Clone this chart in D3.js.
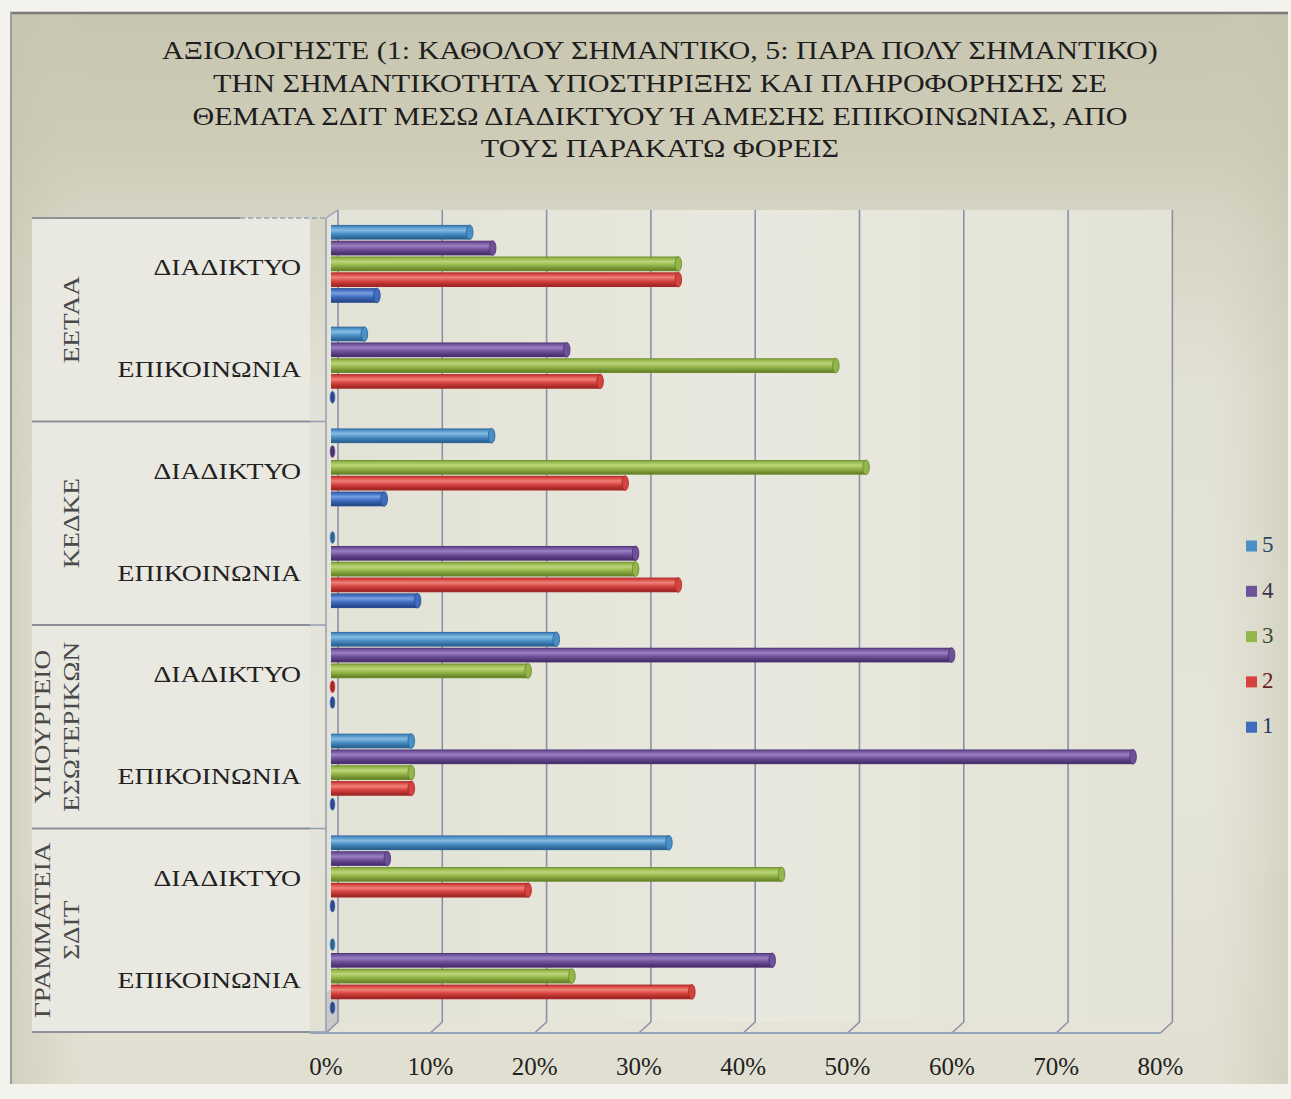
<!DOCTYPE html>
<html><head><meta charset="utf-8">
<script src="https://cdn.jsdelivr.net/npm/d3@7"></script>
<style>body{margin:0;background:#f3f2ec;}svg{display:block}</style>
</head><body><svg id="c" width="1291" height="1099"></svg>
<script>
// ---------------- data ----------------
const titleLines = [
  "ΑΞΙΟΛΟΓΗΣΤΕ (1: ΚΑΘΟΛΟΥ ΣΗΜΑΝΤΙΚΟ, 5: ΠΑΡΑ ΠΟΛΥ ΣΗΜΑΝΤΙΚΟ)",
  "ΤΗΝ ΣΗΜΑΝΤΙΚΟΤΗΤΑ ΥΠΟΣΤΗΡΙΞΗΣ ΚΑΙ ΠΛΗΡΟΦΟΡΗΣΗΣ ΣΕ",
  "ΘΕΜΑΤΑ ΣΔΙΤ ΜΕΣΩ ΔΙΑΔΙΚΤΥΟΥ Ή ΑΜΕΣΗΣ ΕΠΙΚΟΙΝΩΝΙΑΣ, ΑΠΟ",
  "ΤΟΥΣ ΠΑΡΑΚΑΤΩ ΦΟΡΕΙΣ"
];
const groups = ["ΕΕΤΑΑ", "ΚΕΔΚΕ", "ΥΠΟΥΡΓΕΙΟ ΕΣΩΤΕΡΙΚΩΝ", "ΓΡΑΜΜΑΤΕΙΑ ΣΔΙΤ"];
const groupLabelLines = [["ΕΕΤΑΑ"], ["ΚΕΔΚΕ"], ["ΥΠΟΥΡΓΕΙΟ", "ΕΣΩΤΕΡΙΚΩΝ"], ["ΓΡΑΜΜΑΤΕΙΑ", "ΣΔΙΤ"]];
const subCategories = ["ΔΙΑΔΙΚΤΥΟ", "ΕΠΙΚΟΙΝΩΝΙΑ"];
const seriesNames = ["5", "4", "3", "2", "1"];
// values in %, categories top→bottom: group × subCategory
const s5 = [13.3, 3.2, 15.4, 0, 21.6, 7.7, 32.4, 0];
const s4 = [15.5, 22.6, 0, 29.2, 59.5, 76.9, 5.4, 42.3];
const s3 = [33.3, 48.4, 51.3, 29.2, 18.9, 7.7, 43.2, 23.1];
const s2 = [33.3, 25.8, 28.2, 33.3, 0, 7.7, 18.9, 34.6];
const s1 = [4.4, 0, 5.1, 8.3, 0, 0, 0, 0];
const xTicks = [0, 10, 20, 30, 40, 50, 60, 70, 80];

const seriesValues = [s5, s4, s3, s2, s1];
const seriesColors = {
  "5": {base: "#4a8fc6", light: "#86bce3", dark: "#2c6595", text: "#2e4a60"},
  "4": {base: "#6f5199", light: "#9a80c2", dark: "#4a3170", text: "#3a3550"},
  "3": {base: "#93b64a", light: "#bcd57a", dark: "#6a872b", text: "#3e4a2a"},
  "2": {base: "#d6433f", light: "#ef817a", dark: "#a32826", text: "#6a2424"},
  "1": {base: "#3f6cbf", light: "#769ee0", dark: "#284a8e", text: "#243a66"}
};

// ---------------- layout ----------------
const svg = d3.select("#c");
const W = 1291, H = 1099;
const FONT = "'Liberation Serif','Times New Roman',serif";
const STRETCH = 1.18; // the original Greek face is wider than Liberation Serif
function stretch(sel, f) {
  sel.each(function () {
    const w = this.getComputedTextLength();
    d3.select(this).attr("textLength", w * f).attr("lengthAdjust", "spacingAndGlyphs");
  });
}
const defs = svg.append("defs");

// background gradient
const bg = defs.append("linearGradient").attr("id", "bg").attr("x1", 0).attr("y1", 0).attr("x2", 0).attr("y2", 1);
[[0, "#c8c6b0"], [0.12, "#cecbb7"], [0.2, "#d7d5c4"], [0.35, "#e2e1d5"], [0.7, "#e6e5da"], [1, "#e0dfd1"]]
  .forEach(([o, c]) => bg.append("stop").attr("offset", o).attr("stop-color", c));
const bgH = defs.append("linearGradient").attr("id", "bgH").attr("x1", 0).attr("y1", 0).attr("x2", 1).attr("y2", 0);
[[0, "#c6c4ae", 0.55], [0.06, "#d0ceba", 0], [0.94, "#d0ceba", 0], [1, "#c6c4ae", 0.5]]
  .forEach(([o, c, op]) => bgH.append("stop").attr("offset", o).attr("stop-color", c).attr("stop-opacity", op));

svg.append("rect").attr("width", W).attr("height", H).attr("fill", "#f3f2ec");
svg.append("rect").attr("x", 10).attr("y", 12).attr("width", 1278).attr("height", 1072).attr("fill", "url(#bg)");
svg.append("rect").attr("x", 10).attr("y", 12).attr("width", 1278).attr("height", 1072).attr("fill", "url(#bgH)");
svg.append("line").attr("x1", 10).attr("x2", 1288).attr("y1", 13).attr("y2", 13).attr("stroke", "#7a7a78").attr("stroke-width", 2.5);
svg.append("line").attr("x1", 11).attr("x2", 11).attr("y1", 12).attr("y2", 1084).attr("stroke", "#9a9c9e").attr("stroke-width", 2);

// title
svg.append("g").selectAll("text").data(titleLines).join("text")
  .attr("x", 660).attr("y", (d, i) => 59 + i * 32.8)
  .attr("text-anchor", "middle").attr("font-family", FONT).attr("font-size", 25.5)
  .attr("fill", "#1e1e1e").text(d => d)
  .call(stretch, STRETCH);

// scales
const categories = [];
groups.forEach(g => subCategories.forEach(s => categories.push(g + "|" + s)));
const yFront = d3.scaleBand().domain(categories).range([218, 1032]).padding(0);
const barOffset = -5; // bars sit deeper in the 3D box
const ySeries = d3.scaleBand().domain(seriesNames).range([-39.5, 39.5]).padding(0);
const xBar = d3.scaleLinear().domain([0, 80]).range([331, 331 + 834.4]);
const xBack = d3.scaleLinear().domain([0, 80]).range([338, 338 + 834.4]);
const xFront = d3.scaleLinear().domain([0, 80]).range([326, 326 + 834.4]);

// label column
svg.append("rect").attr("x", 32).attr("y", 218).attr("width", 278).attr("height", 814).attr("fill", "#eae9e1");

// back wall
const wallTop = 210, wallBot = 1022, floorY = 1033;
const wallG = defs.append("linearGradient").attr("id", "wall").attr("x1", 0).attr("y1", 0).attr("x2", 1).attr("y2", 0);
[[0, "#e3e2d6"], [0.5, "#e9e8de"], [1, "#e4e3d7"]].forEach(([o, c]) => wallG.append("stop").attr("offset", o).attr("stop-color", c));
svg.append("rect").attr("x", xBack(0)).attr("y", wallTop).attr("width", xBack(80) - xBack(0)).attr("height", wallBot - wallTop).attr("fill", "url(#wall)");
// floor
svg.append("path").attr("d", `M${xBack(0)},${wallBot}L${xBack(80)},${wallBot}L${xFront(80)},${floorY}L${xFront(0)},${floorY}Z`).attr("fill", "#e6e4d8");
// left side wall
svg.append("path").attr("d", `M326,218L${xBack(0)},${wallTop}L${xBack(0)},${wallBot}L326,${floorY}Z`).attr("fill", "#e4e3da");
svg.append("path").attr("d", `M326,992L${xBack(0)},986L${xBack(0)},${wallBot}L326,${floorY}Z`).attr("fill", "#c9c9c5");

// gridlines (back wall + floor)
const gridG = svg.append("g");
xTicks.forEach(t => {
  gridG.append("path")
    .attr("d", `M${xBack(t)},${wallTop}L${xBack(t)},${wallBot}L${xFront(t)},${floorY}`)
    .attr("fill", "none").attr("stroke", "#8d90aa").attr("stroke-width", 1.6);
});
svg.append("line").attr("x1", xFront(0) - 16).attr("x2", xFront(80)).attr("y1", floorY).attr("y2", floorY)
  .attr("stroke", "#93a2b6").attr("stroke-width", 2);
svg.append("path").attr("d", `M326,218L${xBack(0)},${wallTop}`).attr("stroke", "#9aa3b3").attr("stroke-width", 1.5).attr("fill", "none");

// category axis line and group separators
svg.append("line").attr("x1", 326).attr("x2", 326).attr("y1", 218).attr("y2", floorY).attr("stroke", "#98a2b2").attr("stroke-width", 1.6);
const groupBounds = d3.range(groups.length + 1).map(i => i < groups.length ? yFront(groups[i] + "|" + subCategories[0]) : 1032);
groupBounds.forEach((y, i) => {
  svg.append("line").attr("x1", 32).attr("x2", i === 0 ? 240 : 310).attr("y1", y).attr("y2", y)
    .attr("stroke", "#8d9196").attr("stroke-width", 2);
  svg.append("line").attr("x1", i === 0 ? 240 : 310).attr("x2", 326).attr("y1", y).attr("y2", y)
    .attr("stroke", "#93a2b6").attr("stroke-width", 1.6).attr("stroke-dasharray", i === 0 ? "5,3" : null);
});

// sub-category labels
svg.append("g").selectAll("text").data(categories).join("text")
  .attr("x", 301).attr("y", d => yFront(d) + yFront.bandwidth() / 2 + 1)
  .attr("dominant-baseline", "middle").attr("text-anchor", "end")
  .attr("font-family", FONT).attr("font-size", 23.5).attr("fill", "#222")
  .text(d => d.split("|")[1])
  .call(stretch, STRETCH);

// group labels (rotated)
groupLabelLines.forEach((lines, i) => {
  const yc = (groupBounds[i] + groupBounds[i + 1]) / 2;
  const xs = lines.length === 1 ? [74] : [45, 74];
  lines.forEach((ln, j) => {
    svg.append("text").attr("transform", `translate(${xs[j]},${yc}) rotate(-90)`)
      .attr("text-anchor", "middle").attr("dominant-baseline", "middle")
      .attr("font-family", FONT).attr("font-size", 23.5).attr("fill", "#4a4a4a")
      .text(ln)
      .call(stretch, 1.16);
  });
});

// bar gradients
seriesNames.forEach(s => {
  const c = seriesColors[s];
  const g = defs.append("linearGradient").attr("id", "g" + s).attr("x1", 0).attr("y1", 0).attr("x2", 0).attr("y2", 1);
  [[0, c.dark], [0.12, c.base], [0.35, c.light], [0.6, c.base], [0.88, c.dark], [1, c.dark]]
    .forEach(([o, col]) => g.append("stop").attr("offset", o).attr("stop-color", col));
});

// bars (cylinders)
const barH = 14.7;
const barsG = svg.append("g");
seriesNames.forEach((s, si) => {
  const c = seriesColors[s];
  const data = categories.map((cat, ci) => ({cat, v: seriesValues[si][ci]}));
  const g = barsG.append("g");
  data.forEach(d => {
    const yc = yFront(d.cat) + yFront.bandwidth() / 2 + barOffset + ySeries(s) + ySeries.bandwidth() / 2;
    if (d.v > 0) {
      g.append("rect").attr("x", xBar(0)).attr("y", yc - barH / 2)
        .attr("width", xBar(d.v) - xBar(0)).attr("height", barH)
        .attr("fill", "url(#g" + s + ")");
      g.append("ellipse").attr("cx", xBar(d.v)).attr("cy", yc).attr("rx", 3.3).attr("ry", barH / 2)
        .attr("fill", c.base).attr("stroke", c.dark).attr("stroke-width", 0.8);
    } else {
      g.append("ellipse").attr("cx", xBar(0) + 1.5).attr("cy", yc).attr("rx", 2.4).attr("ry", 6)
        .attr("fill", c.dark).attr("stroke", c.base).attr("stroke-width", 0.6);
    }
  });
});

// x-axis tick labels
svg.append("g").selectAll("text").data(xTicks).join("text")
  .attr("x", d => xFront(d)).attr("y", 1075)
  .attr("text-anchor", "middle").attr("font-family", FONT).attr("font-size", 25)
  .attr("fill", "#222").text(d => d + "%");

// legend
const leg = svg.append("g").selectAll("g").data(seriesNames).join("g")
  .attr("transform", (d, i) => `translate(1246,${546 + i * 45.3})`);
leg.append("rect").attr("x", 0).attr("y", -5.5).attr("width", 11).attr("height", 11)
  .attr("fill", d => seriesColors[d].base);
leg.append("text").attr("x", 16).attr("y", 1).attr("dominant-baseline", "middle")
  .attr("font-family", FONT).attr("font-size", 23).attr("fill", d => seriesColors[d].text).text(d => d);
</script>
</body></html>
